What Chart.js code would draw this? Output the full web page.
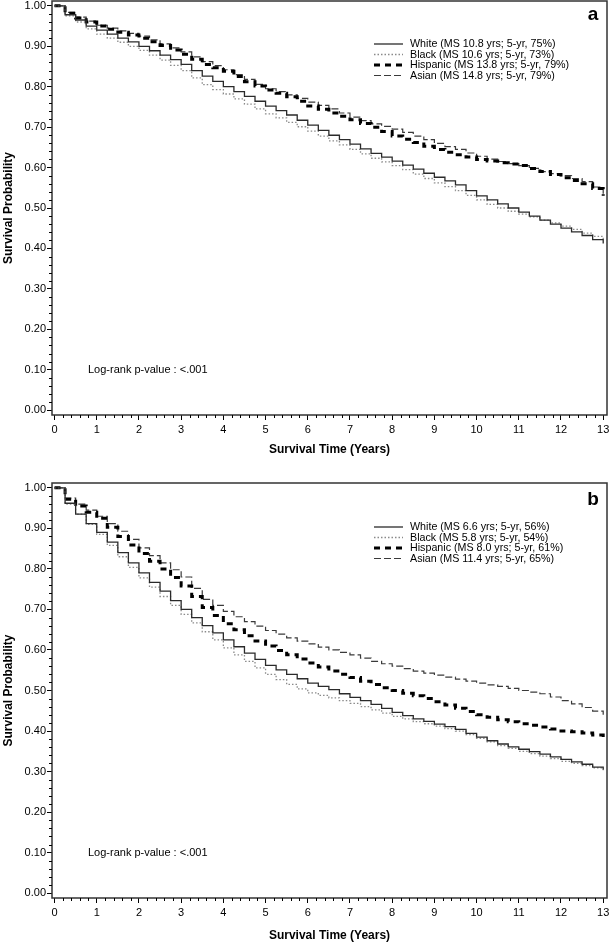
<!DOCTYPE html>
<html>
<head>
<meta charset="utf-8">
<script src="https://cdn.jsdelivr.net/npm/chart.js@4.4.0/dist/chart.umd.min.js"></script>
<style>
  body { margin: 0; background: #fff; }
  #wrap { position: relative; width: 609px; height: 944px; }
  canvas { position: absolute; left: 0; }
  #chartA { top: 0; }
  #chartB { top: 470px; }
</style>
</head>
<body>
<div id="wrap">
  <canvas id="chartA" width="609" height="470"></canvas>
  <canvas id="chartB" width="609" height="474"></canvas>
</div>
<script>
/* data, every quarter year */
const years = [0, 0.25, 0.5, 0.75, 1, 1.25, 1.5, 1.75, 2, 2.25, 2.5, 2.75, 3, 3.25, 3.5, 3.75, 4, 4.25, 4.5, 4.75,
  5, 5.25, 5.5, 5.75, 6, 6.25, 6.5, 6.75, 7, 7.25, 7.5, 7.75, 8, 8.25, 8.5, 8.75, 9, 9.25, 9.5, 9.75,
  10, 10.25, 10.5, 10.75, 11, 11.25, 11.5, 11.75, 12, 12.25, 12.5, 12.75, 13];
const xTicks = [0, 1, 2, 3, 4, 5, 6, 7, 8, 9, 10, 11, 12, 13];
const yTicks = [0, 0.1, 0.2, 0.3, 0.4, 0.5, 0.6, 0.7, 0.8, 0.9, 1.0];

// panel a
const whiteA    = [1, .978, .965, .950, .940, .930, .920, .911, .900, .889, .878, .867, .855, .840, .826, .813, .800, .788, .776, .764,
  .752, .741, .730, .717, .705, .692, .680, .669, .658, .646, .635, .626, .616, .606, .596, .586, .576, .567, .557, .543,
  .530, .520, .510, .500, .490, .480, .470, .460, .450, .441, .432, .422, .412];
const blackA    = [1, .975, .960, .943, .930, .920, .910, .900, .890, .878, .866, .853, .840, .822, .805, .793, .782, .770, .757, .745,
  .733, .723, .712, .701, .690, .678, .666, .656, .645, .634, .623, .614, .605, .595, .584, .573, .562, .553, .543, .531,
  .520, .509, .500, .492, .485, .478, .470, .463, .455, .447, .438, .430, .420];
const hispanicA = [1, .982, .970, .960, .950, .942, .935, .928, .920, .911, .902, .891, .880, .868, .855, .847, .838, .825, .812, .802,
  .792, .784, .775, .764, .752, .744, .735, .727, .718, .709, .700, .689, .678, .670, .662, .653, .645, .638, .632, .626,
  .620, .616, .612, .609, .605, .598, .590, .583, .575, .568, .560, .548, .530];
const asianA    = [1, .984, .972, .962, .952, .945, .938, .932, .925, .916, .906, .896, .886, .874, .862, .852, .842, .830, .818, .806,
  .795, .788, .780, .771, .762, .754, .745, .735, .725, .716, .708, .702, .695, .687, .678, .669, .660, .652, .645, .636,
  .628, .621, .615, .610, .605, .598, .590, .585, .580, .573, .565, .552, .535];
const legendA = ['White (MS 10.8 yrs; 5-yr, 75%)', 'Black (MS 10.6 yrs; 5-yr, 73%)', 'Hispanic (MS 13.8 yrs; 5-yr, 79%)', 'Asian (MS 14.8 yrs; 5-yr, 79%)'];

// panel b
const whiteB    = [1, .962, .935, .912, .890, .866, .840, .815, .790, .767, .745, .722, .700, .680, .660, .642, .625, .608, .592, .577,
  .562, .551, .540, .529, .518, .510, .502, .492, .483, .475, .466, .456, .446, .438, .430, .424, .417, .411, .404, .394,
  .385, .376, .368, .361, .355, .349, .343, .336, .330, .324, .318, .311, .305];
const blackB    = [1, .960, .935, .910, .885, .858, .830, .804, .778, .755, .732, .710, .688, .667, .645, .625, .605, .588, .572, .556,
  .540, .527, .515, .504, .494, .488, .482, .475, .468, .460, .452, .444, .436, .430, .423, .418, .412, .406, .400, .391,
  .382, .373, .364, .357, .350, .344, .338, .332, .325, .320, .315, .309, .303];
const hispanicB = [1, .972, .955, .940, .925, .903, .880, .859, .838, .819, .800, .779, .758, .732, .705, .685, .665, .650, .635, .622,
  .610, .599, .588, .578, .568, .558, .548, .540, .532, .523, .515, .507, .500, .493, .487, .480, .472, .464, .456, .448,
  .440, .434, .428, .423, .418, .414, .410, .405, .400, .398, .395, .390, .385];
const asianB    = [1, .975, .960, .945, .930, .912, .893, .873, .852, .833, .815, .798, .780, .752, .725, .710, .695, .682, .670, .659,
  .648, .639, .630, .622, .615, .607, .600, .594, .588, .580, .572, .566, .560, .554, .548, .543, .538, .533, .528, .523,
  .518, .514, .510, .505, .500, .496, .492, .484, .475, .467, .458, .449, .440];
const legendB = ['White (MS 6.6 yrs; 5-yr, 56%)', 'Black (MS 5.8 yrs; 5-yr, 54%)', 'Hispanic (MS 8.0 yrs; 5-yr, 61%)', 'Asian (MS 11.4 yrs; 5-yr, 65%)'];

const pText = 'Log-rank p-value : <.001';
const FONT = "'Liberation Sans', Arial, sans-serif";

// line look per group: white, black, hispanic, asian
const styles = [
  { color: '#2a2a2a', width: 1.3, dash: [] },
  { color: '#8a8a8a', width: 1.3, dash: [1.5, 2] },
  { color: '#000000', width: 3,   dash: [6, 5] },
  { color: '#3a3a3a', width: 1.2, dash: [7, 3] }
];

function pairs(vals) {
  return years.map((t, i) => ({ x: t, y: vals[i] }));
}

const decor = {
  id: 'decor',
  afterDatasetsDraw(chart) {
    const { ctx, chartArea: a, scales: { x, y } } = chart;
    const o = chart.options.plugins.decor;
    ctx.save();
    // box round the plot
    ctx.strokeStyle = '#333';
    ctx.lineWidth = 1.5;
    ctx.strokeRect(a.left, a.top, a.right - a.left, a.bottom - a.top);

    // minor ticks
    ctx.strokeStyle = '#000';
    ctx.lineWidth = 1;
    ctx.beginPath();
    for (let i = 1; i < 65; i++) {
      if (i % 5 === 0) continue;
      const px = Math.round(x.getPixelForValue(i * 0.2)) + 0.5;
      ctx.moveTo(px, a.bottom);
      ctx.lineTo(px, a.bottom + 3);
    }
    for (let i = 1; i < 50; i++) {
      if (i % 5 === 0) continue;
      const py = Math.round(y.getPixelForValue(i * 0.02)) + 0.5;
      ctx.moveTo(a.left, py);
      ctx.lineTo(a.left - 3, py);
    }
    ctx.stroke();

    // legend
    ctx.font = '10.7px ' + FONT;
    ctx.textBaseline = 'middle';
    ctx.textAlign = 'left';
    o.labels.forEach((lab, i) => {
      const s = styles[i];
      const ly = o.legendTop + i * o.legendStep;
      ctx.strokeStyle = s.color;
      ctx.lineWidth = s.width;
      ctx.setLineDash(s.dash);
      ctx.beginPath();
      ctx.moveTo(o.legendX, ly);
      ctx.lineTo(o.legendX + 29, ly);
      ctx.stroke();
      ctx.setLineDash([]);
      ctx.fillStyle = '#000';
      ctx.fillText(lab, o.legendX + 36, ly + 0.5);
    });

    // p-value note
    ctx.font = '11px ' + FONT;
    ctx.fillText(pText, 88, y.getPixelForValue(0.1));

    // panel letter
    ctx.font = 'bold 19px ' + FONT;
    ctx.textAlign = 'center';
    ctx.fillText(o.letter, o.letterX, o.letterY);
    ctx.restore();
  }
};

function makeChart(id, w, b, h, a, labels, letter, padTop, xH, titlePad, legendTop, letterY) {
  const series = [w, b, h, a];
  new Chart(document.getElementById(id), {
    type: 'line',
    data: {
      datasets: series.map((vals, i) => ({
        label: labels[i],
        data: pairs(vals),
        stepped: 'before',
        borderColor: styles[i].color,
        borderWidth: styles[i].width,
        borderDash: styles[i].dash,
        pointRadius: 0,
        fill: false
      }))
    },
    options: {
      responsive: false,
      animation: false,
      layout: { padding: { top: padTop, right: 2, left: 0, bottom: 0 } },
      plugins: {
        legend: { display: false },
        tooltip: { enabled: false },
        decor: { labels: labels, letter: letter, letterX: 593, letterY: letterY, legendX: 374, legendTop: legendTop, legendStep: 10.5 }
      },
      scales: {
        x: {
          type: 'linear',
          min: -0.06,
          max: 13.09,
          afterBuildTicks: s => { s.ticks = xTicks.map(v => ({ value: v })); },
          afterFit: s => { s.height = xH; s.paddingLeft = 0; s.paddingRight = 0; },
          border: { display: false },
          grid: { drawOnChartArea: false, tickLength: 5, tickColor: '#000', tickWidth: 1 },
          ticks: { autoSkip: false, maxRotation: 0, padding: 3, color: '#000', font: { family: FONT, size: 11 }, callback: v => String(v) },
          title: { display: true, text: 'Survival Time (Years)', color: '#000', font: { family: FONT, size: 12, weight: 'bold' }, padding: { top: 0, bottom: titlePad } }
        },
        y: {
          type: 'linear',
          min: -0.012,
          max: 1.012,
          afterBuildTicks: s => { s.ticks = yTicks.map(v => ({ value: v })); },
          afterFit: s => { s.width = 52; s.paddingTop = 0; s.paddingBottom = 0; },
          border: { display: false },
          grid: { drawOnChartArea: false, tickLength: 5, tickColor: '#000', tickWidth: 1 },
          ticks: { autoSkip: false, padding: 1, color: '#000', font: { family: FONT, size: 11 }, callback: v => v.toFixed(2) },
          title: { display: true, text: 'Survival Probability', color: '#000', font: { family: FONT, size: 12, weight: 'bold' }, padding: { top: 1, bottom: 0 } }
        }
      }
    },
    plugins: [decor]
  });
}

makeChart('chartA', whiteA, blackA, hispanicA, asianA, legendA, 'a', 1, 55, 13, 44, 15);
makeChart('chartB', whiteB, blackB, hispanicB, asianB, legendB, 'b', 13, 46, 1, 57, 30);
</script>
</body>
</html>
